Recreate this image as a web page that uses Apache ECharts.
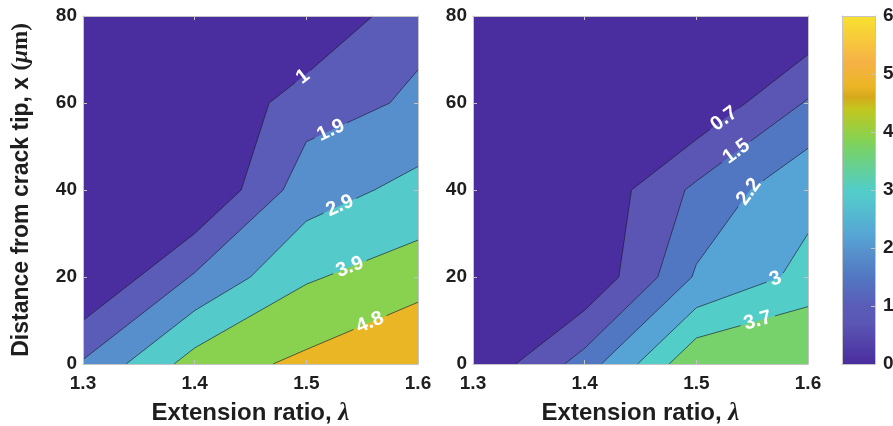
<!DOCTYPE html>
<html>
<head>
<meta charset="utf-8">
<script src="https://cdn.jsdelivr.net/npm/echarts@6/dist/echarts.min.js"></script>
<style>
  html, body { margin: 0; padding: 0; background: #ffffff; }
  #chart { width: 893px; height: 426px; }
</style>
</head>
<body>
<div id="chart"></div>
<script>
// ---- sampling grid -------------------------------------------------------
const stretchRatios = [1.3, 1.4, 1.5, 1.6];      // extension ratio (columns)
const tipDistances  = [0, 20, 40, 60, 80];        // distance from crack tip, µm (rows)

// field values, one row per distance, one column per extension ratio
const fieldLeft = [
  [2.0, 4.33, 5.0, 5.78],
  [0,   2.0,  3.8, 4.4 ],
  [0,   0,    2.4, 3.22],
  [0,   0,    1.5, 2.035],
  [0,   0,    0,   1.68]
];
const fieldRight = [
  [0, 1.83, 4.30, 4.61],
  [0, 0,    2.29, 3.23],
  [0, 0,    1.67, 2.77],
  [0, 0,    0,    1.58],
  [0, 0,    0,    0   ]
];

// contour levels drawn on each panel
const levelsLeft  = [1, 1.9, 2.9, 3.9, 4.8];
const levelsRight = [0.7, 1.5, 2.2, 3, 3.7];

// tick labels
const xTickLabels = ['1.3', '1.4', '1.5', '1.6'];
const yTickLabels = ['0', '20', '40', '60', '80'];
const colourbarTicks = [0, 1, 2, 3, 4, 5, 6];

// ---- styling -------------------------------------------------------------
const FONT = '"Liberation Sans", Arial, Helvetica, sans-serif';
const SERIF = '"Liberation Serif", "DejaVu Serif", serif';
const TEXT_DARK = '#1e1e1e';
const AXIS_GREY = '#c4c4c4';
const LINE_COLOUR = 'rgba(25, 25, 45, 0.8)';

// colour scale on the 0–6 range
const colourStops = [
  [0.0, '#4a2d9e'],
  [0.7, '#5b56b4'],
  [1.0, '#5a5cb8'],
  [1.5, '#5277c2'],
  [1.9, '#568fcb'],
  [2.2, '#56a4d5'],
  [2.9, '#54cacb'],
  [3.0, '#52cdc8'],
  [3.7, '#77d26b'],
  [3.9, '#89d24f'],
  [4.4, '#c3c61e'],
  [4.6, '#d6a91c'],
  [4.8, '#ebb626'],
  [5.2, '#f6b146'],
  [6.0, '#f8e22f']
];
const SCALE_MAX = 6;

// where along each contour (extension ratio) its label sits
const labelAtLeft  = [1.497, 1.522, 1.53, 1.539, 1.557];
const labelAtRight = [1.525, 1.536, 1.547, 1.571, 1.555];

// ---- helpers -------------------------------------------------------------
function hexToRgb(h) {
  return [parseInt(h.slice(1, 3), 16), parseInt(h.slice(3, 5), 16), parseInt(h.slice(5, 7), 16)];
}
function colourAt(v) {
  if (v <= colourStops[0][0]) return colourStops[0][1];
  for (let i = 1; i < colourStops.length; i++) {
    if (v <= colourStops[i][0]) {
      const [v0, c0] = colourStops[i - 1];
      const [v1, c1] = colourStops[i];
      const t = (v - v0) / (v1 - v0);
      const a = hexToRgb(c0), b = hexToRgb(c1);
      const m = a.map((x, k) => Math.round(x + t * (b[k] - x)));
      return 'rgb(' + m.join(',') + ')';
    }
  }
  return colourStops[colourStops.length - 1][1];
}

function cellCorners(field, i, j) {
  return [
    [stretchRatios[i],     tipDistances[j],     field[j][i]],
    [stretchRatios[i + 1], tipDistances[j],     field[j][i + 1]],
    [stretchRatios[i + 1], tipDistances[j + 1], field[j + 1][i + 1]],
    [stretchRatios[i],     tipDistances[j + 1], field[j + 1][i]]
  ];
}
function crossing(a, b, level) {
  const t = (level - a[2]) / (b[2] - a[2]);
  return [a[0] + t * (b[0] - a[0]), a[1] + t * (b[1] - a[1])];
}
// polygons (one per cell) covering the region where the field >= level
function superLevelPolygons(field, level) {
  const polys = [];
  for (let j = 0; j < tipDistances.length - 1; j++) {
    for (let i = 0; i < stretchRatios.length - 1; i++) {
      const c = cellCorners(field, i, j);
      const poly = [];
      for (let k = 0; k < 4; k++) {
        const a = c[k], b = c[(k + 1) % 4];
        const ina = a[2] >= level, inb = b[2] >= level;
        if (ina) poly.push([a[0], a[1]]);
        if (ina !== inb) poly.push(crossing(a, b, level));
      }
      if (poly.length >= 3) polys.push(poly);
    }
  }
  return polys;
}
// straight isoline pieces, one or two per cell
function isoSegments(field, level) {
  const segs = [];
  for (let j = 0; j < tipDistances.length - 1; j++) {
    for (let i = 0; i < stretchRatios.length - 1; i++) {
      const c = cellCorners(field, i, j);
      const pts = [];
      for (let k = 0; k < 4; k++) {
        const a = c[k], b = c[(k + 1) % 4];
        if ((a[2] >= level) !== (b[2] >= level)) pts.push(crossing(a, b, level));
      }
      if (pts.length === 2) segs.push([pts[0], pts[1]]);
      else if (pts.length === 4) { segs.push([pts[0], pts[1]]); segs.push([pts[2], pts[3]]); }
    }
  }
  return segs;
}
// parts of segment a-b (pixels) lying outside the circle (c, r)
function cutAround(a, b, c, r) {
  const dx = b[0] - a[0], dy = b[1] - a[1];
  const fx = a[0] - c[0], fy = a[1] - c[1];
  const A = dx * dx + dy * dy, B = 2 * (fx * dx + fy * dy), C = fx * fx + fy * fy - r * r;
  const disc = B * B - 4 * A * C;
  if (A === 0 || disc <= 0) return [[a, b]];
  const s = Math.sqrt(disc);
  const t1 = (-B - s) / (2 * A), t2 = (-B + s) / (2 * A);
  const P = t => [a[0] + t * dx, a[1] + t * dy];
  const out = [];
  if (t1 > 0) out.push([a, P(Math.min(t1, 1))]);
  if (t2 < 1) out.push([P(Math.max(t2, 0)), b]);
  return out;
}
const measureCtx = document.createElement('canvas').getContext('2d');
const LABEL_FONT = 'bold 20px ' + FONT;
function textWidth(txt) {
  measureCtx.font = LABEL_FONT;
  return measureCtx.measureText(txt).width;
}

const panels = [
  { field: fieldLeft,  levels: levelsLeft,  labelAt: labelAtLeft  },
  { field: fieldRight, levels: levelsRight, labelAt: labelAtRight }
];
function bandColour(panel, band) {
  return band === 0 ? colourAt(0) : colourAt(panel.levels[band - 1]);
}

function fillRenderer(panel) {
  return function (params, api) {
    const band = api.value(2);
    let polys;
    if (band === 0) {
      const x0 = stretchRatios[0], x1 = stretchRatios[stretchRatios.length - 1];
      const y0 = tipDistances[0], y1 = tipDistances[tipDistances.length - 1];
      polys = [[[x0, y0], [x1, y0], [x1, y1], [x0, y1]]];
    } else {
      polys = superLevelPolygons(panel.field, panel.levels[band - 1]);
    }
    let d = '';
    polys.forEach(poly => {
      poly.forEach((p, i) => {
        const q = api.coord(p);
        d += (i ? 'L' : 'M') + q[0].toFixed(2) + ' ' + q[1].toFixed(2) + ' ';
      });
      d += 'Z ';
    });
    if (!d) return null;
    return { type: 'path', shape: { pathData: d }, style: { fill: bandColour(panel, band), stroke: 'none' } };
  };
}

function isolineRenderer(panel) {
  return function (params, api) {
    const k = api.value(2);
    const level = panel.levels[k];
    const segs = isoSegments(panel.field, level);
    const text = String(level);
    const ax = panel.labelAt[k];
    let label = null;
    for (const s of segs) {
      const xa = Math.min(s[0][0], s[1][0]), xb = Math.max(s[0][0], s[1][0]);
      if (xb > xa && ax >= xa && ax <= xb) {
        const t = (ax - s[0][0]) / (s[1][0] - s[0][0]);
        const p = [s[0][0] + t * (s[1][0] - s[0][0]), s[0][1] + t * (s[1][1] - s[0][1])];
        const a = api.coord(s[0]), b = api.coord(s[1]);
        let ang = Math.atan2(-(b[1] - a[1]), b[0] - a[0]);
        if (ang > Math.PI / 2) ang -= Math.PI;
        if (ang < -Math.PI / 2) ang += Math.PI;
        label = { c: api.coord(p), ang: ang };
        break;
      }
    }
    const r = textWidth(text) / 2 + 4;
    let d = '';
    segs.forEach(s => {
      const a = api.coord(s[0]), b = api.coord(s[1]);
      const pieces = label ? cutAround(a, b, label.c, r) : [[a, b]];
      pieces.forEach(([p, q]) => {
        d += 'M' + p[0].toFixed(2) + ' ' + p[1].toFixed(2) + 'L' + q[0].toFixed(2) + ' ' + q[1].toFixed(2);
      });
    });
    const children = [];
    if (d) children.push({ type: 'path', shape: { pathData: d }, style: { fill: 'none', stroke: LINE_COLOUR, lineWidth: 0.8 } });
    if (label) {
      children.push({
        type: 'text', x: label.c[0], y: label.c[1], rotation: label.ang,
        style: { text: text, fill: '#ffffff', font: LABEL_FONT, align: 'center', verticalAlign: 'middle' }
      });
    }
    return { type: 'group', children: children };
  };
}

function colourbarRenderer(params, api) {
  const p0 = api.coord([0, 0]);
  const p1 = api.coord([1, SCALE_MAX]);
  const stops = colourStops.map(([v, c]) => ({ offset: v / SCALE_MAX, color: c }));
  return {
    type: 'rect',
    shape: { x: p0[0], y: p1[1], width: p1[0] - p0[0], height: p0[1] - p1[1] },
    style: { fill: new echarts.graphic.LinearGradient(0, 1, 0, 0, stops), stroke: 'none' }
  };
}

// ---- axes ----------------------------------------------------------------
const tickLabelStyle = { fontSize: 19, fontWeight: 'bold', color: TEXT_DARK, fontFamily: FONT };
const greyLine = { show: true, onZero: false, lineStyle: { color: AXIS_GREY, width: 1 } };
const greyTick = { show: true, inside: true, length: 4, lineStyle: { color: AXIS_GREY } };

function bottomX(grid) {
  return {
    gridIndex: grid, type: 'value', position: 'bottom', z: 5,
    min: 1.3, max: 1.6, interval: 0.1,
    axisLine: greyLine, axisTick: greyTick, splitLine: { show: false },
    axisLabel: Object.assign({ margin: 10, showMinLabel: true, showMaxLabel: true,
      formatter: v => xTickLabels[Math.round((v - 1.3) * 10)] }, tickLabelStyle),
    name: 'Extension ratio, {l|λ}', nameLocation: 'middle', nameGap: 37,
    nameTextStyle: {
      fontSize: 24, fontWeight: 'bold', color: TEXT_DARK, fontFamily: FONT,
      rich: { l: { fontSize: 25, fontStyle: 'italic', fontFamily: SERIF, color: TEXT_DARK } }
    }
  };
}
function topX(grid) {
  return {
    gridIndex: grid, type: 'value', position: 'top', z: 5,
    min: 1.3, max: 1.6, interval: 0.1,
    axisLine: greyLine, axisTick: greyTick, splitLine: { show: false }, axisLabel: { show: false }
  };
}
function leftY(grid, withName) {
  const ax = {
    gridIndex: grid, type: 'value', position: 'left', z: 5,
    min: 0, max: 80, interval: 20,
    axisLine: greyLine, axisTick: greyTick, splitLine: { show: false },
    axisLabel: Object.assign({ margin: 6, showMinLabel: true, showMaxLabel: true,
      formatter: v => yTickLabels[Math.round(v / 20)] }, tickLabelStyle)
  };
  if (withName) {
    ax.name = 'Distance from crack tip, x {p|(}{mu|μ}{p|m)}';
    ax.nameLocation = 'middle';
    ax.nameGap = 50;
    ax.nameTextStyle = {
      fontSize: 23, fontWeight: 'bold', color: TEXT_DARK, fontFamily: FONT,
      rich: {
        p: { fontSize: 23, fontFamily: SERIF, color: TEXT_DARK },
        mu: { fontSize: 23, fontFamily: SERIF, fontStyle: 'italic', color: TEXT_DARK }
      }
    };
  }
  return ax;
}
function rightY(grid) {
  return {
    gridIndex: grid, type: 'value', position: 'right', z: 5,
    min: 0, max: 80, interval: 20,
    axisLine: greyLine, axisTick: greyTick, splitLine: { show: false }, axisLabel: { show: false }
  };
}

const gridBase = { containLabel: false, outerBoundsMode: 'none', show: false };

const option = {
  animation: false,
  backgroundColor: '#ffffff',
  grid: [
    Object.assign({ left: 83,  top: 16, width: 335, height: 348 }, gridBase),
    Object.assign({ left: 473, top: 16, width: 335, height: 348 }, gridBase),
    Object.assign({ left: 842, top: 16, width: 33,  height: 348 }, gridBase)
  ],
  xAxis: [
    bottomX(0), topX(0), bottomX(1), topX(1),
    { gridIndex: 2, type: 'value', position: 'bottom', min: 0, max: 1, z: 5,
      axisLine: greyLine, axisTick: { show: false }, axisLabel: { show: false }, splitLine: { show: false } },
    { gridIndex: 2, type: 'value', position: 'top', min: 0, max: 1, z: 5,
      axisLine: greyLine, axisTick: { show: false }, axisLabel: { show: false }, splitLine: { show: false } }
  ],
  yAxis: [
    leftY(0, true), rightY(0), leftY(1, false), rightY(1),
    { gridIndex: 2, type: 'value', position: 'left', min: 0, max: SCALE_MAX, z: 5,
      axisLine: greyLine, axisTick: { show: false }, axisLabel: { show: false }, splitLine: { show: false } },
    { gridIndex: 2, type: 'value', position: 'right', min: colourbarTicks[0],
      max: colourbarTicks[colourbarTicks.length - 1], interval: 1, z: 5,
      axisLine: greyLine, axisTick: greyTick, splitLine: { show: false },
      axisLabel: Object.assign({ margin: 8, showMinLabel: true, showMaxLabel: true }, tickLabelStyle) }
  ],
  series: []
};

panels.forEach((panel, g) => {
  const xi = g * 2, yi = g * 2;
  const origin = [stretchRatios[0], tipDistances[0]];
  option.series.push({
    type: 'custom', name: 'bands' + g, xAxisIndex: xi, yAxisIndex: yi, z: 2, silent: true,
    renderItem: fillRenderer(panel),
    data: [0].concat(panel.levels.map((_, k) => k + 1)).map(b => [origin[0], origin[1], b])
  });
  option.series.push({
    type: 'custom', name: 'isolines' + g, xAxisIndex: xi, yAxisIndex: yi, z: 3, silent: true,
    renderItem: isolineRenderer(panel),
    data: panel.levels.map((_, k) => [origin[0], origin[1], k])
  });
});
option.series.push({
  type: 'custom', name: 'colourbar', xAxisIndex: 4, yAxisIndex: 5, z: 2, silent: true,
  renderItem: colourbarRenderer,
  data: [[0, 0]]
});

const chart = echarts.init(document.getElementById('chart'), null, { renderer: 'canvas' });
chart.setOption(option);
</script>
</body>
</html>
